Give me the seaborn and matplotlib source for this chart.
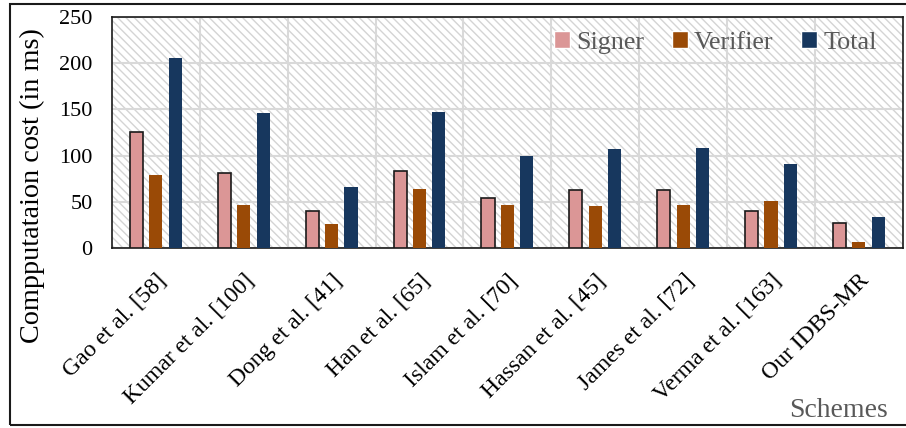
import matplotlib
matplotlib.use("Agg")
import matplotlib.pyplot as plt
from matplotlib.patches import Rectangle
import pandas as pd
import seaborn as sns

schemes = ['Gao et al. [58]', 'Kumar et al. [100]', 'Dong et al. [41]', 'Han et al. [65]',
           'Islam et al. [70]', 'Hassan et al. [45]', 'James et al. [72]', 'Verma et al. [163]',
           'Our IDBS-MR']
signer = [126, 81, 40, 83, 54, 63, 63, 40, 27]
verifier = [79, 47, 26, 64, 47, 45, 47, 51, 6]
total = [206, 146, 66, 147, 100, 107, 108, 91, 33]
series = ['Signer', 'Verifier', 'Total']
colors = {'Signer': '#DB9696', 'Verifier': '#9A4A06', 'Total': '#17375E'}

rows = []
for name, vals in zip(series, [signer, verifier, total]):
    for s, v in zip(schemes, vals):
        rows.append({'scheme': s, 'series': name, 'cost': v})
df = pd.DataFrame(rows)

sns.set_theme(style="white")
plt.rcParams['font.family'] = ['Liberation Serif', 'DejaVu Serif']

fig = plt.figure(figsize=(9.06, 4.28), dpi=100)
ax = fig.add_axes([0.1236, 0.4206, 0.8728, 0.5397])

# fond hachuré
bg = Rectangle((0, 0), 1, 1, transform=ax.transAxes, facecolor='white',
               edgecolor='#d4d4d4', hatch='\\\\\\\\', linewidth=0, zorder=0)
ax.add_patch(bg)
ax.patch.set_alpha(0)

sns.barplot(data=df, x='scheme', y='cost', hue='series', palette=colors,
            width=0.66, gap=0.32, saturation=1, ax=ax, zorder=3)

for bar in ax.containers[0]:
    bar.set_edgecolor('#1a1a1a')
    bar.set_linewidth(1.2)
for c in ax.containers[1:]:
    for bar in c:
        bar.set_linewidth(0)

ax.set_ylim(0, 250)
ax.set_xlim(-0.5, 8.5)
ax.set_yticks([0, 50, 100, 150, 200, 250])
ax.set_xticks([i + 0.5 for i in range(8)], minor=True)
ax.grid(True, axis='y', which='major', color='#d9d9d9', linewidth=1.5, zorder=1)
ax.grid(True, axis='x', which='minor', color='#d9d9d9', linewidth=1.5, zorder=1)
ax.set_axisbelow(True)

ax.tick_params(axis='y', which='both', length=0, pad=14, labelsize=16, labelcolor='black')
ax.tick_params(axis='x', which='both', length=0, pad=16, labelsize=17, labelcolor='black')
plt.setp(ax.get_xticklabels(), rotation=45, ha='right', rotation_mode='anchor')

for sp in ax.spines.values():
    sp.set_visible(True)
    sp.set_color('#1a1a1a')
    sp.set_linewidth(1.2)

ax.set_xlabel('')
ax.set_ylabel('Compputataion cost (in ms)', fontsize=20.3, color='black')
ax.yaxis.set_label_coords(-0.085, 0.269)

ax.legend(loc='upper right', ncol=3, frameon=False, fontsize=18.8, labelcolor='#595959',
          handlelength=0.6, handleheight=0.6, handletextpad=0.25, columnspacing=1.05,
          borderpad=0, borderaxespad=0, bbox_to_anchor=(0.967, 0.938))

fig.text(0.980, 0.025, 'Schemes', ha='right', va='baseline', fontsize=20, color='#595959')

# cadre extérieur
fig.patches.append(Rectangle((0.011, 0.006), 1.2, 0.985, transform=fig.transFigure,
                             fill=False, edgecolor='#1a1a1a', linewidth=1.5))

fig.savefig('out.png', dpi=100)
